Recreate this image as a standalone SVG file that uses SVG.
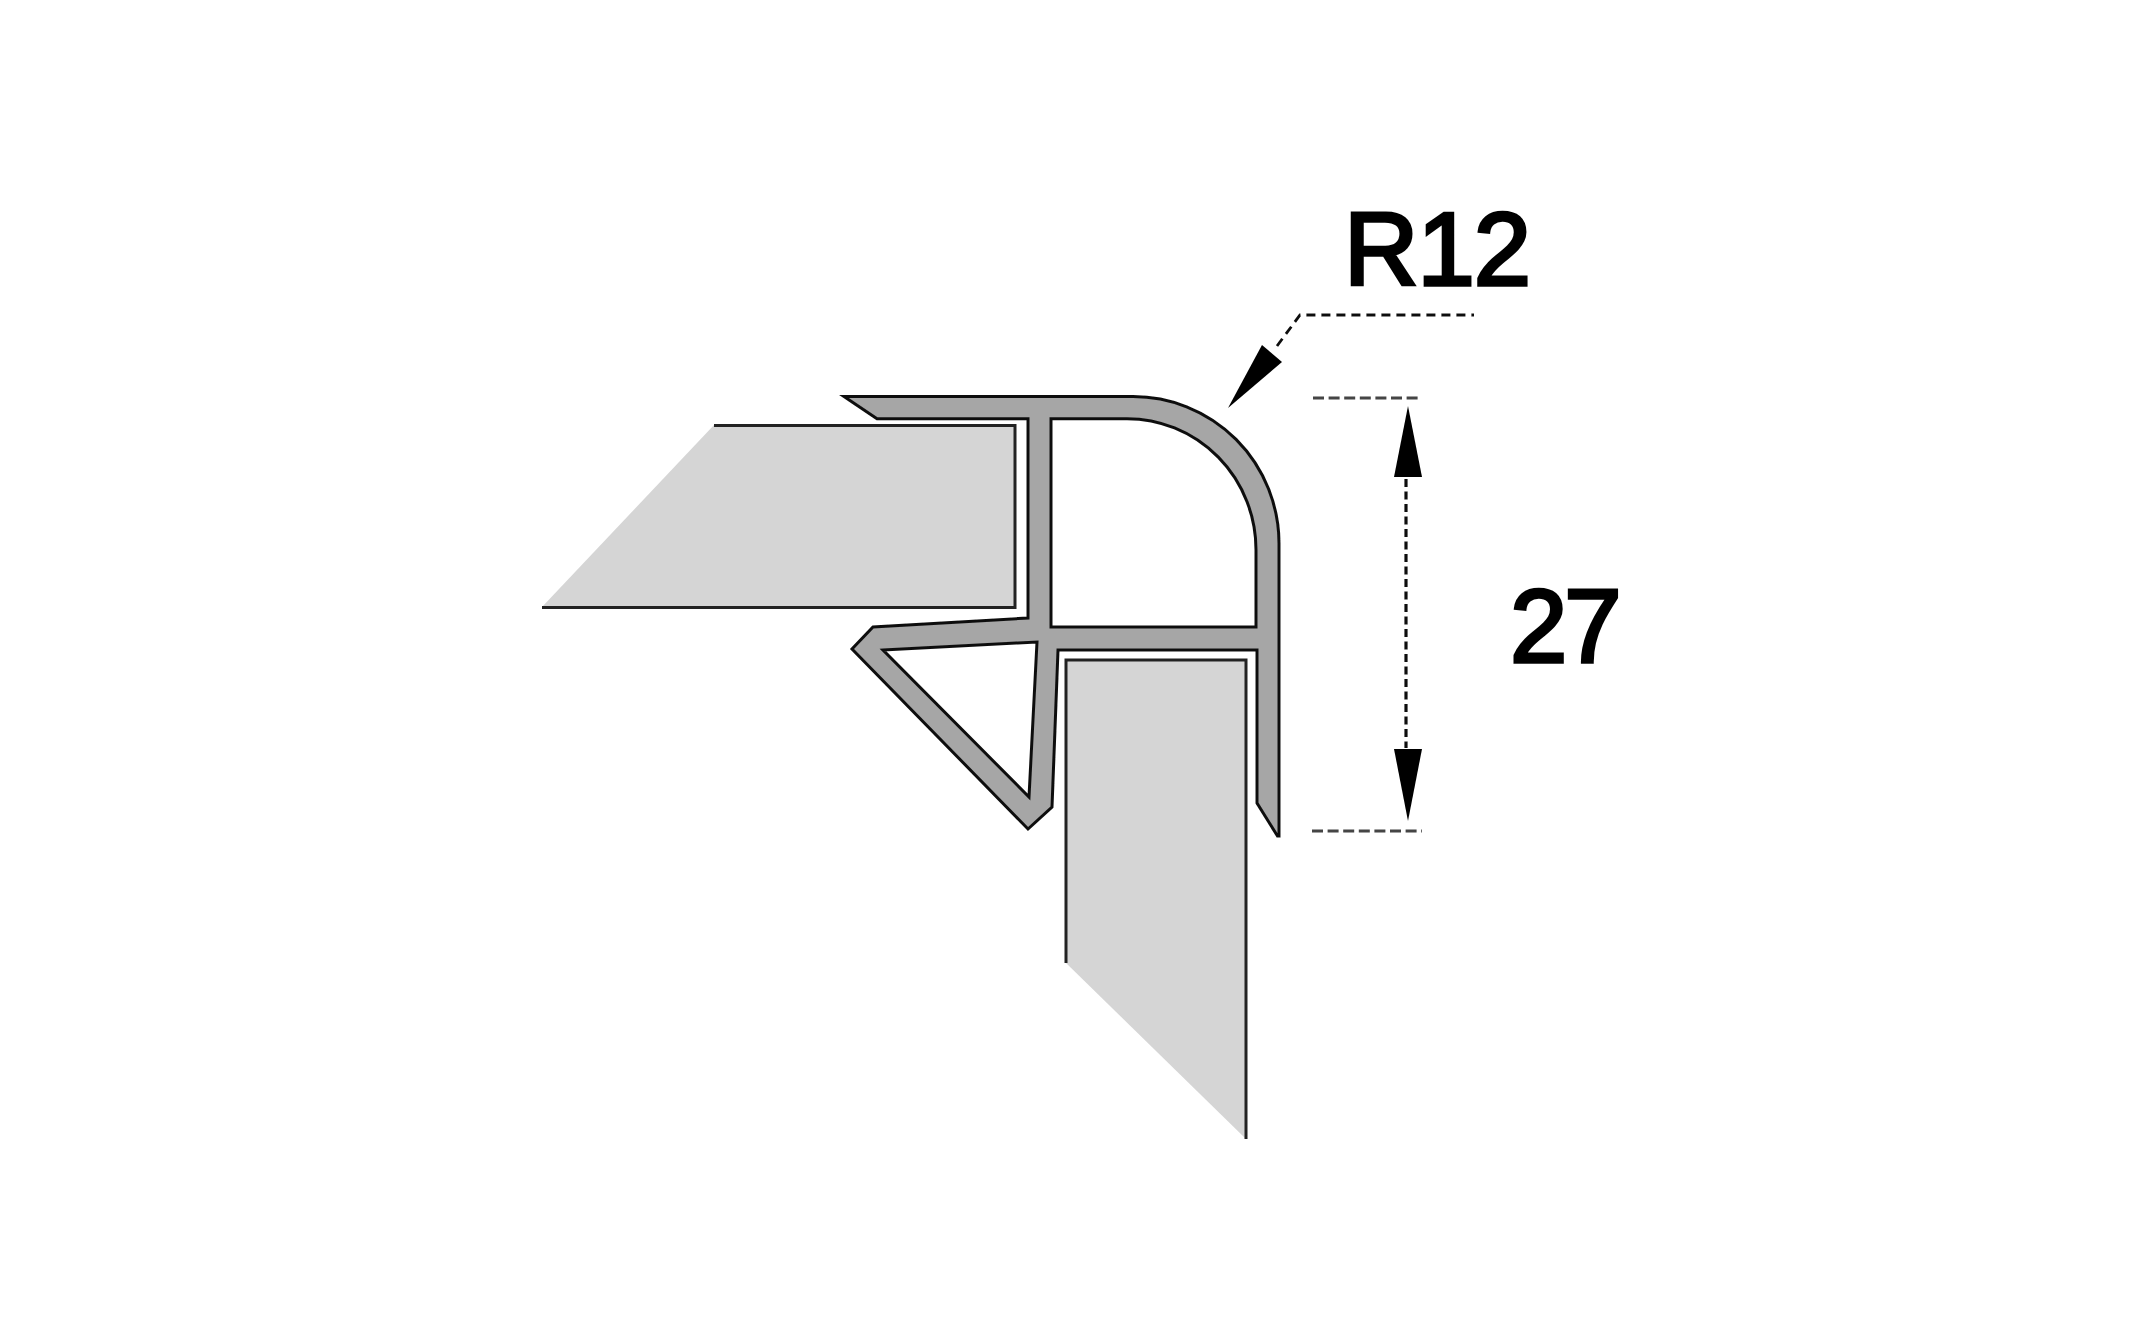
<svg xmlns="http://www.w3.org/2000/svg" width="2132" height="1333" viewBox="0 0 2132 1333">
<style>
.panel{fill:#d5d5d5;stroke:none}
.edge{fill:none;stroke:#222;stroke-width:3}
.profile{fill:#a6a6a6;stroke:#111;stroke-width:3;stroke-linejoin:miter}
.hole{fill:#fff;stroke:#111;stroke-width:3}
.dash{fill:none;stroke:#111;stroke-width:2.8;stroke-dasharray:9 6}
.dim{fill:none;stroke:#111;stroke-width:3.2;stroke-dasharray:8 4.5}
.ext{fill:none;stroke:#444;stroke-width:3;stroke-dasharray:11 4.6}
.head{fill:#000}
.label{font-family:"Liberation Sans",Arial,sans-serif;font-size:103px;fill:#000;stroke:#000;stroke-width:3.4;stroke-linejoin:miter}
</style>
<defs><filter id="soft" x="0" y="0" width="100%" height="100%"><feGaussianBlur stdDeviation="0.7"/></filter></defs>
<rect width="2132" height="1333" fill="#fff"/>
<g filter="url(#soft)">
<g id="panel-left">
<path class="panel" d="M714 425H1015V607H542Z"/>
<path class="edge" d="M714 425.500H1015V607.500H542"/>
</g>
<g id="panel-bottom">
<path class="panel" d="M1066 660H1246V1139L1066 963Z"/>
<path class="edge" d="M1066 963V660H1246V1139"/>
</g>
<g id="profile">
<path class="profile" d="M844 396.500L877 418.700H1028V618L873 627L852 649L1028 829L1052 807L1058 650H1257V803L1277.500 836L1279 836V543A146 147 0 0 0 1133 396.500Z"/>
<path class="hole" d="M1051 418.700H1127A129 131 0 0 1 1256 550V627H1051Z"/>
<path class="hole" d="M883 650L1037 642L1029 797Z"/>
</g>
<g id="connectors">
<path class="dash" d="M1277 346L1300 315H1474"/>
<path class="head" d="M1228 408L1262 345L1282 362Z"/>
<path class="ext" d="M1313 398H1422"/>
<path class="ext" d="M1312 831H1422"/>
<path class="dim" d="M1406 479V748"/>
<path class="head" d="M1408 406L1394 477H1422Z"/>
<path class="head" d="M1408 821L1394 749H1422Z"/>
</g>
<g id="label-r12"><text class="label" x="1344" y="284.500" letter-spacing="-1">R12</text></g>
<g id="label-27"><text class="label" x="1510" y="661.500" letter-spacing="-3">27</text></g>
</g>
</svg>
